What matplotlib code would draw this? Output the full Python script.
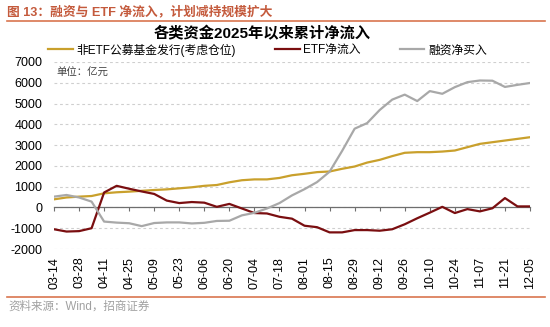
#! /usr/bin/python

# 各类资金2025年以来累计净流入 (weekly, 亿元)

from matplotlib import pyplot as plt
import pandas as pd

plt.rcParams['font.family'] = ['Liberation Sans', 'Noto Sans CJK SC']
plt.rcParams['axes.unicode_minus'] = False

dates = pd.date_range('2025-03-14', periods=39, freq='7D').strftime('%m-%d').tolist()

fund_issue = [390, 480, 520, 550, 680, 730, 760, 800, 840, 870,
              920, 970, 1040, 1080, 1210, 1310, 1350, 1350, 1420, 1550,
              1620, 1700, 1730, 1860, 1970, 2160, 2290, 2470, 2630, 2660,
              2660, 2690, 2740, 2900, 3060, 3140, 3220, 3300, 3380]
etf_flow = [-1050, -1160, -1140, -1000, 720, 1040, 900, 770, 650, 330,
            210, 260, 230, 30, 170, -50, -270, -290, -450, -540,
            -880, -950, -1200, -1200, -1090, -1090, -1120, -1050, -810, -520,
            -250, 30, -270, -80, -190, -40, 450, 50, 50]
margin_buy = [520, 600, 480, 280, -680, -730, -760, -900, -750, -720,
              -720, -770, -740, -650, -640, -380, -260, -50, 210, 580,
              880, 1220, 1720, 2720, 3790, 4060, 4690, 5190, 5430, 5120,
              5600, 5470, 5790, 6030, 6110, 6100, 5800, 5900, 5990]

series_names = ['非ETF公募基金发行(考虑仓位)', 'ETF净流入', '融资净买入']
colors = ['#C9A02C', '#7A0E10', '#A8A8A8']

fig = plt.figure(figsize=(5.5, 3.27), dpi=100)
ax = fig.add_axes([54/550, 1-249/327, 476/550, 187/327])

x = list(range(len(dates)))
for vals, name, col in zip([fund_issue, etf_flow, margin_buy], series_names, colors):
    ax.plot(x, vals, color=col, lw=1.6, label=name, zorder=3)

ax.set_xlim(0, len(dates)-1)
ax.set_ylim(-2000, 7000)
ax.set_yticks(range(-2000, 7001, 1000))
ax.grid(axis='y', color='#CFCFCF', ls=(0, (2.5, 2.5)), lw=0.8)
ax.set_axisbelow(True)

for s in ['left', 'right', 'top']:
    ax.spines[s].set_visible(False)
ax.spines['bottom'].set_position(('data', 0))
ax.spines['bottom'].set_color('#6E6E6E')
ax.spines['bottom'].set_linewidth(0.9)

ax.set_xticks(x[::2])
ax.set_xticklabels(dates[::2], rotation=90, va='top', fontsize=9)
ax.tick_params(axis='x', direction='out', length=3, color='#6E6E6E', pad=32.5)
ax.tick_params(axis='y', length=0, pad=8.5, labelsize=9)

ax.text(0.006, 0.94, '单位：亿元', transform=ax.transAxes, fontsize=7.5,
        color='#404040', va='center', family=['Noto Sans CJK SC'])

fig.legend(loc='center left', bbox_to_anchor=(48/550, 1-50/327), ncol=3, frameon=False,
           fontsize=8.5, handlelength=2.1, handletextpad=0.3, columnspacing=3.3,
           borderpad=0, borderaxespad=0)

fig.text(262/550, 1-33.5/327, '各类资金2025年以来累计净流入', ha='center', va='center',
         fontsize=11, fontweight='bold')

# report header / footer
fig.text(7/550, 1-12/327, '图 13：融资与 ETF 净流入，计划减持规模扩大', ha='left', va='center',
         fontsize=9.2, fontweight='bold', color='#C45A3C')
fig.add_artist(plt.Line2D([7/550, 545/550], [1-21/327, 1-21/327], color='#D9764F', lw=1.2))
fig.add_artist(plt.Line2D([7/550, 545/550], [1-297/327, 1-297/327], color='#D9764F', lw=1.2))
fig.text(8/550, 1-307/327, '资料来源：Wind，招商证券', ha='left', va='center',
         fontsize=8.3, color='#A0A0A0')

fig.savefig('out.png', dpi=100)
